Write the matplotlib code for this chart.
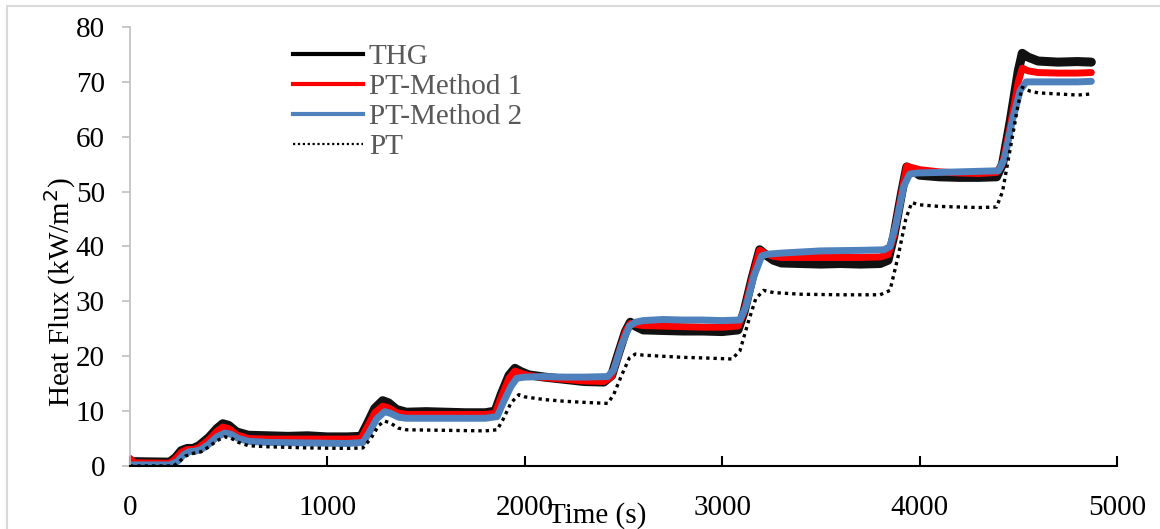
import matplotlib
matplotlib.use('Agg')
import matplotlib.pyplot as plt
from matplotlib.lines import Line2D
from matplotlib.patches import Rectangle

# ======================
# DATA
# ======================

# THG
thg_t = [0, 200, 230, 260, 290, 320, 350, 400, 440, 470, 500, 540, 600, 700, 800, 900, 1000, 1100, 1170,
         1200, 1240, 1280, 1310, 1350, 1400, 1500, 1600, 1700, 1800, 1850,
         1880, 1920, 1950, 1980, 2020, 2100, 2200, 2300, 2400, 2440,
         2470, 2510, 2535, 2560, 2600, 2700, 2800, 2900, 3000, 3080,
         3110, 3150, 3190, 3220, 3260, 3300, 3400, 3500, 3600, 3700, 3800, 3840,
         3870, 3910, 3935, 3960, 4000, 4100, 4200, 4300, 4390,
         4420, 4460, 4500, 4520, 4550, 4600, 4700, 4800, 4870]
thg_v = [0.8, 0.7, 1.5, 2.8, 3.2, 3.2, 3.7, 5.2, 6.8, 7.7, 7.4, 6.2, 5.6, 5.5, 5.4, 5.5, 5.3, 5.3, 5.4,
         7.5, 10.5, 11.9, 11.5, 10.3, 9.8, 9.9, 9.8, 9.7, 9.7, 10.0,
         13.0, 16.5, 17.8, 17.2, 16.6, 16.2, 15.8, 15.4, 15.3, 16.5,
         20.0, 24.5, 26.2, 25.5, 24.8, 24.7, 24.6, 24.6, 24.5, 24.8,
         28.0, 34.0, 39.4, 38.5, 37.5, 37.0, 36.9, 36.8, 36.9, 36.8, 36.9, 37.5,
         42.0, 50.0, 54.5, 54.0, 53.0, 52.7, 52.6, 52.6, 52.7,
         55.0, 63.0, 72.0, 75.2, 74.5, 73.8, 73.6, 73.7, 73.6]

# PT-Method 1
m1_t = [0, 20, 200, 230, 260, 290, 320, 350, 400, 440, 470, 500, 540, 600, 700, 900, 1100, 1170,
        1200, 1240, 1280, 1310, 1350, 1400, 1600, 1800, 1850,
        1880, 1920, 1950, 1980, 2020, 2100, 2200, 2300, 2400, 2440,
        2470, 2510, 2535, 2560, 2600, 2700, 2800, 2900, 3000, 3080,
        3110, 3150, 3190, 3220, 3260, 3300, 3500, 3700, 3800, 3840,
        3870, 3910, 3935, 3960, 4000, 4100, 4200, 4300, 4390,
        4420, 4460, 4500, 4520, 4550, 4600, 4700, 4800, 4870]
m1_v = [1.4, 0.6, 0.5, 1.3, 2.5, 3.0, 3.0, 3.4, 4.8, 6.3, 7.1, 6.8, 5.7, 5.0, 4.9, 4.9, 4.9, 5.0,
        7.0, 9.7, 10.9, 10.6, 9.7, 9.4, 9.4, 9.4, 9.6,
        12.5, 16.0, 17.3, 16.9, 16.5, 16.1, 15.8, 15.5, 15.4, 16.3,
        19.8, 24.5, 26.0, 25.8, 25.6, 25.5, 25.4, 25.3, 25.3, 25.5,
        28.0, 34.0, 39.3, 38.7, 38.2, 38.0, 38.0, 38.0, 38.1, 38.5,
        42.0, 50.0, 54.6, 54.4, 54.0, 53.6, 53.4, 53.3, 53.5,
        55.0, 62.0, 70.0, 72.5, 72.0, 71.7, 71.6, 71.6, 71.7]

# PT-Method 2
m2_t = [0, 200, 240, 270, 300, 330, 360, 400, 440, 480, 510, 550, 600, 700, 900, 1100, 1180,
        1210, 1250, 1290, 1320, 1360, 1400, 1600, 1800, 1860,
        1890, 1930, 1960, 2000, 2100, 2200, 2300, 2420,
        2450, 2490, 2530, 2560, 2600, 2700, 2800, 2900, 3000, 3090,
        3120, 3160, 3200, 3230, 3300, 3500, 3700, 3820,
        3850, 3880, 3920, 3950, 3990, 4100, 4200, 4300, 4400,
        4430, 4470, 4510, 4540, 4600, 4700, 4800, 4870]
m2_v = [0.2, 0.2, 0.8, 2.0, 2.6, 2.7, 3.0, 4.0, 5.3, 6.0, 5.8, 5.0, 4.5, 4.3, 4.2, 4.1, 4.3,
        6.0, 8.6, 9.9, 9.6, 8.9, 8.7, 8.7, 8.7, 9.0,
        11.5, 14.5, 16.0, 16.2, 16.3, 16.2, 16.2, 16.3,
        17.5, 22.0, 25.5, 26.2, 26.5, 26.7, 26.6, 26.6, 26.5, 26.6,
        29.0, 34.5, 38.3, 38.6, 38.8, 39.2, 39.3, 39.4,
        40.0, 44.0, 51.0, 53.2, 53.4, 53.5, 53.6, 53.7, 53.8,
        56.0, 63.0, 68.5, 70.0, 70.0, 70.0, 70.0, 70.1]

# PT
pt_t = [0, 220, 250, 280, 320, 360, 400, 440, 480, 510, 550, 600, 700, 900, 1100, 1180,
        1220, 1260, 1290, 1320, 1360, 1400, 1600, 1800, 1860,
        1890, 1930, 1970, 2000, 2100, 2200, 2300, 2420,
        2450, 2490, 2530, 2560, 2600, 2700, 2800, 2900, 3050,
        3090, 3130, 3170, 3210, 3260, 3400, 3600, 3800,
        3850, 3890, 3930, 3960, 4000, 4100, 4200, 4300, 4390,
        4420, 4460, 4500, 4520, 4560, 4600, 4700, 4800, 4870]
pt_v = [0.0, 0.0, 0.8, 1.8, 2.3, 2.6, 3.5, 4.6, 5.3, 5.1, 4.3, 3.7, 3.5, 3.3, 3.2, 3.3,
        5.0, 7.4, 8.2, 7.8, 6.9, 6.6, 6.5, 6.4, 6.6,
        8.5, 11.5, 13.0, 12.6, 12.1, 11.8, 11.6, 11.4,
        13.0, 16.5, 19.7, 20.4, 20.2, 20.0, 19.8, 19.7, 19.5,
        21.0, 26.0, 30.5, 32.0, 31.6, 31.3, 31.2, 31.2,
        32.0, 38.0, 45.0, 48.0, 47.6, 47.3, 47.2, 47.1, 47.2,
        50.0, 58.0, 66.0, 69.0, 68.3, 68.0, 67.8, 67.6, 67.8]

series_labels = ['THG', 'PT-Method 1', 'PT-Method 2', 'PT']
x_ticks = [0, 1000, 2000, 3000, 4000, 5000]
y_ticks = [0, 10, 20, 30, 40, 50, 60, 70, 80]

# ======================
# PLOT
# ======================

plt.rcParams['font.family'] = ['Liberation Serif', 'DejaVu Serif']
plt.rcParams['font.size'] = 21

fig = plt.figure(figsize=(11.6, 5.29), dpi=100)
ax = fig.add_axes([130 / 1160, 63 / 529, 987 / 1160, 439 / 529])

# chart area border (cut by the image edges)
fig.patches.append(Rectangle((7 / 1160, -0.1), 1.2, 1.1 - 6 / 529, transform=fig.transFigure,
                             fill=False, edgecolor='#d9d9d9', linewidth=1.5))

ax.plot(thg_t, thg_v, color='#111111', linewidth=6.5, solid_capstyle='round', solid_joinstyle='round')
ax.plot(m1_t, m1_v, color='#ff0000', linewidth=5, solid_capstyle='round', solid_joinstyle='round')
ax.plot(m2_t, m2_v, color='#4f81bd', linewidth=5, solid_capstyle='round', solid_joinstyle='round')
ax.plot(pt_t, pt_v, color='black', linewidth=2.4, linestyle=(0, (1, 1.2)))

ax.set_xlim(0, 5000)
ax.set_ylim(0, 80)
ax.set_xticks(x_ticks)
ax.set_yticks(y_ticks)

for side in ['top', 'right']:
    ax.spines[side].set_visible(False)
ax.spines['left'].set_color('#bfbfbf')
ax.spines['left'].set_linewidth(1.2)
ax.spines['bottom'].set_color('black')
ax.spines['bottom'].set_linewidth(1.5)
ax.tick_params(axis='y', direction='out', length=6, width=1.2, color='#bfbfbf', pad=12)
ax.tick_params(axis='x', direction='in', length=7, width=1.5, color='black', pad=21)

ax.set_xlabel('Time (s)', va='center')
ax.xaxis.set_label_coords(0.473, -0.112)
ax.set_ylabel('Heat Flux (kW/m$^{2}$)', va='center')
ax.yaxis.set_label_coords(-0.071, 0.396)

handles = [Line2D([], [], color='black', linewidth=3),
           Line2D([], [], color='#ff0000', linewidth=3),
           Line2D([], [], color='#4f81bd', linewidth=3),
           Line2D([], [], color='black', linewidth=1.6, linestyle=(0, (1, 1.2)))]
leg = ax.legend(handles, series_labels, loc='upper left', frameon=False,
                bbox_to_anchor=(293 / 1160, 1 - 44 / 529), bbox_transform=fig.transFigure,
                borderpad=0, borderaxespad=0, handlelength=2.4, handletextpad=0.2,
                labelspacing=0.12)
for txt in leg.get_texts():
    txt.set_color('#595959')

fig.savefig('out.png', dpi=100)
